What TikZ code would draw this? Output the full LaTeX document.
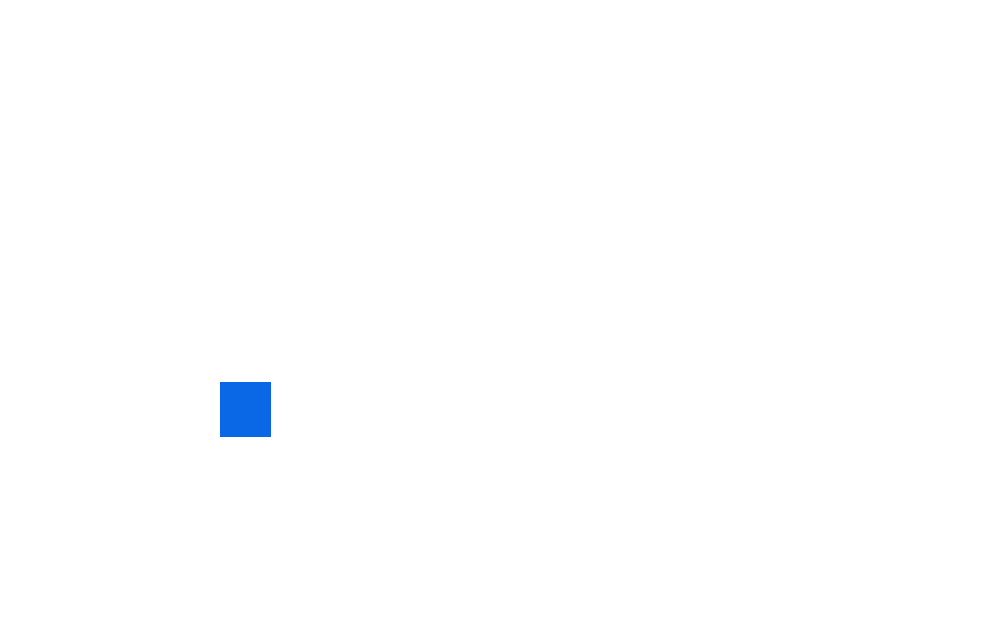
\documentclass[tikz,border=0pt]{standalone}
\definecolor{boxblue}{HTML}{0A68E6}
\begin{document}
\begin{tikzpicture}[x=1pt,y=-1pt]
\useasboundingbox[fill=white] (0,0) rectangle (1000,640);
\node[fill=boxblue,inner sep=0pt,minimum width=51pt,minimum height=55pt,anchor=north west] (sq) at (220,382) {};
\end{tikzpicture}
\end{document}
